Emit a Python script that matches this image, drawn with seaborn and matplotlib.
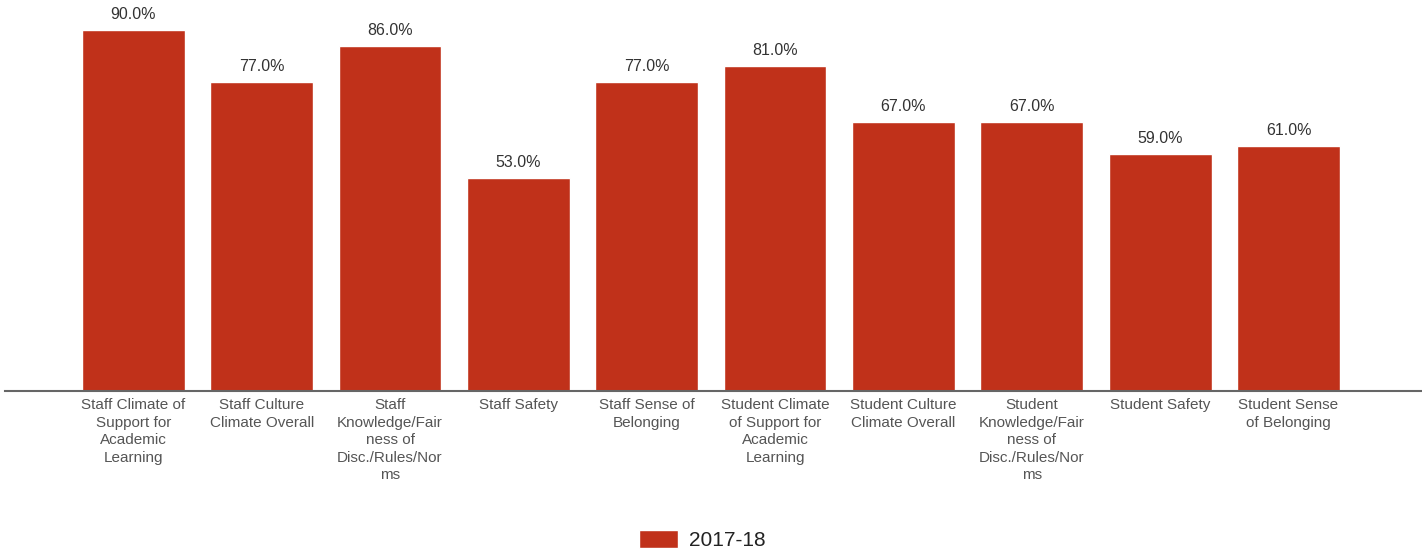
import matplotlib
matplotlib.use("Agg")
import matplotlib.pyplot as plt
import seaborn as sns
import pandas as pd

categories = [
    "Staff Climate of\nSupport for\nAcademic\nLearning",
    "Staff Culture\nClimate Overall",
    "Staff\nKnowledge/Fair\nness of\nDisc./Rules/Nor\nms",
    "Staff Safety",
    "Staff Sense of\nBelonging",
    "Student Climate\nof Support for\nAcademic\nLearning",
    "Student Culture\nClimate Overall",
    "Student\nKnowledge/Fair\nness of\nDisc./Rules/Nor\nms",
    "Student Safety",
    "Student Sense\nof Belonging",
]
values = [90.0, 77.0, 86.0, 53.0, 77.0, 81.0, 67.0, 67.0, 59.0, 61.0]
series = ["2017-18"] * len(values)

df = pd.DataFrame({"cat": categories, "val": values, "year": series})

sns.set_theme(style="white")
plt.rcParams["font.family"] = ["Liberation Sans", "DejaVu Sans"]

fig = plt.figure(figsize=(14.22, 5.55), dpi=100)
ax = fig.add_axes([5/1422, (555-391)/555, 1 - 5/1422, 391/555])

bar_color = "#C0311A"
sns.barplot(data=df, x="cat", y="val", hue="year", palette=[bar_color],
            width=0.8, ax=ax, saturation=1)

ax.set_ylim(0, 97.5)
ax.set_xlim(-1.0, 10.04)
for c in ax.containers:
    ax.bar_label(c, labels=[f"{v:.1f}%" for v in values], padding=6,
                 fontsize=11.5, color="#333333")

ax.set_xlabel("")
ax.set_ylabel("")
ax.set_yticks([])
ax.tick_params(axis="x", length=0, pad=5, labelsize=11, labelcolor="#555555")
for lab in ax.get_xticklabels():
    lab.set_linespacing(1.33)
for s in ["top", "right", "left"]:
    ax.spines[s].set_visible(False)
ax.spines["bottom"].set_color("#666666")
ax.spines["bottom"].set_linewidth(1.5)

leg = ax.legend(loc="center", bbox_to_anchor=(702/1422, 15/555), bbox_transform=fig.transFigure,
                frameon=False, fontsize=15, handlelength=1.9, handleheight=0.95,
                handletextpad=0.5)
for t in leg.get_texts():
    t.set_color("#222222")

fig.savefig("out.png", dpi=100)
